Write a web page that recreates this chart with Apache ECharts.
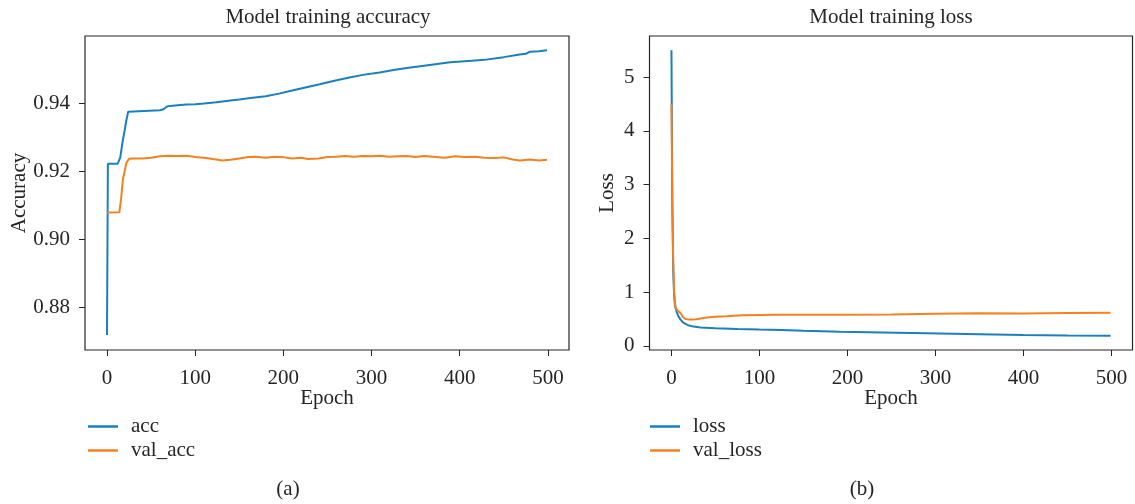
<!DOCTYPE html>
<html>
<head>
<meta charset="utf-8">
<script src="https://cdn.jsdelivr.net/npm/echarts@6/dist/echarts.min.js"></script>
<style>
  html, body { margin: 0; padding: 0; background: #fff; }
  #chart { width: 1135px; height: 504px; }
</style>
</head>
<body>
<div id="chart"></div>
<script>
// epochs and values
var accEpochs = [0, 1, 12, 13, 15, 18, 20, 22, 24, 26, 60, 64, 68, 72, 80, 90, 100, 110, 124, 140, 150, 165, 180, 195, 210, 225, 240, 258, 275, 290, 309, 325, 340, 366, 389, 410, 428, 450, 468, 475, 480, 490, 499];
var accValues = [0.872, 0.9222, 0.9222, 0.9223, 0.9240, 0.9292, 0.9320, 0.9350, 0.9375, 0.9379, 0.9379, 0.9382, 0.9390, 0.9392, 0.9394, 0.9396, 0.9397, 0.9399, 0.9403, 0.9408, 0.9411, 0.9416, 0.9420, 0.9428, 0.9437, 0.9446, 0.9455, 0.9466, 0.9475, 0.9483, 0.9490, 0.9497, 0.9503, 0.9512, 0.9520, 0.9524, 0.9527, 0.9535, 0.9543, 0.9545, 0.9551, 0.9552, 0.9555];

var valAccEpochs = [0, 14, 15, 16, 18, 20, 22, 25, 30, 40, 50, 60, 70, 80, 90, 100, 110, 120, 131, 140, 150, 160, 169, 180, 190, 201, 210, 220, 228, 240, 250, 260, 270, 280, 290, 300, 310, 320, 330, 340, 350, 360, 370, 383, 395, 405, 417, 428, 440, 450, 460, 468, 480, 490, 499];
var valAccValues = [0.9079, 0.9080, 0.9085, 0.9120, 0.9176, 0.9200, 0.9225, 0.9237, 0.9238, 0.9238, 0.9240, 0.9244, 0.9246, 0.9245, 0.9246, 0.9242, 0.9240, 0.9236, 0.9232, 0.9234, 0.9238, 0.9242, 0.9243, 0.9240, 0.9243, 0.9241, 0.9238, 0.9240, 0.9236, 0.9238, 0.9242, 0.9243, 0.9245, 0.9243, 0.9245, 0.9244, 0.9246, 0.9243, 0.9244, 0.9245, 0.9242, 0.9245, 0.9243, 0.9240, 0.9244, 0.9242, 0.9243, 0.9240, 0.9239, 0.9241, 0.9235, 0.9232, 0.9235, 0.9232, 0.9234];

var lossEpochs = [0, 1, 2, 3, 4, 6, 8, 10, 13, 16, 20, 25, 33, 50, 75, 100, 125, 150, 192, 240, 290, 350, 400, 450, 499];
var lossValues = [5.5, 2.6, 1.4, 0.95, 0.75, 0.63, 0.55, 0.50, 0.44, 0.41, 0.38, 0.36, 0.345, 0.33, 0.315, 0.305, 0.298, 0.285, 0.265, 0.25, 0.235, 0.22, 0.205, 0.195, 0.188];

var valLossEpochs = [0, 1, 2, 3, 4, 5, 7, 9, 11, 13, 16, 20, 25, 30, 40, 50, 63, 80, 100, 124, 150, 200, 250, 300, 350, 400, 450, 499];
var valLossValues = [4.5, 2.7, 1.6, 1.05, 0.8, 0.7, 0.66, 0.65, 0.6, 0.54, 0.50, 0.49, 0.49, 0.50, 0.53, 0.545, 0.555, 0.57, 0.575, 0.58, 0.58, 0.58, 0.585, 0.60, 0.61, 0.605, 0.615, 0.62];

var epochTicks = [0, 100, 200, 300, 400, 500];
var accTicks = [0.88, 0.90, 0.92, 0.94];
var lossTicks = [0, 1, 2, 3, 4, 5];

function pairs(xs, ys) {
    var out = [];
    for (var i = 0; i < xs.length; i++) {
        out.push([xs[i], ys[i]]);
    }
    return out;
}

var FONT = 'Liberation Serif';
var FS = 21;
var INK = '#262626';
var BLUE = '#1a7fbf';
var ORANGE = '#f5801f';

function xAxisFor(gridIndex) {
    return {
        type: 'value',
        gridIndex: gridIndex,
        min: -24.95,
        max: 523.95,
        name: 'Epoch',
        nameLocation: 'middle',
        nameGap: 38,
        nameMoveOverlap: false,
        nameTextStyle: { fontFamily: FONT, fontSize: FS, color: INK },
        axisLine: { show: false, onZero: false },
        axisTick: { show: true, inside: false, length: 6, customValues: epochTicks, lineStyle: { color: INK } },
        axisLabel: { customValues: epochTicks, margin: 18, fontFamily: FONT, fontSize: FS, color: INK },
        splitLine: { show: false }
    };
}

function yAxisFor(gridIndex, name, min, max, ticks, gap, fmt) {
    return {
        type: 'value',
        gridIndex: gridIndex,
        min: min,
        max: max,
        name: name,
        nameLocation: 'middle',
        nameGap: gap,
        nameMoveOverlap: false,
        nameTextStyle: { fontFamily: FONT, fontSize: FS, color: INK },
        axisLine: { show: false, onZero: false },
        axisTick: { show: true, inside: false, length: 6, customValues: ticks, lineStyle: { color: INK } },
        axisLabel: { customValues: ticks, margin: 15, fontFamily: FONT, fontSize: FS, color: INK, formatter: fmt },
        splitLine: { show: false }
    };
}

function lineSeries(name, xi, yi, data, color) {
    return {
        name: name,
        type: 'line',
        xAxisIndex: xi,
        yAxisIndex: yi,
        data: data,
        showSymbol: false,
        symbol: 'none',
        color: color,
        lineStyle: { width: 2, color: color }
    };
}

var chart = echarts.init(document.getElementById('chart'));
var option = {
    animation: false,
    backgroundColor: '#fff',
    grid: [
        { left: 85, top: 36, width: 484, height: 314, show: true, borderColor: INK, borderWidth: 1.2, backgroundColor: 'transparent' },
        { left: 649.5, top: 36, width: 483, height: 314, show: true, borderColor: INK, borderWidth: 1.2, backgroundColor: 'transparent' }
    ],
    xAxis: [xAxisFor(0), xAxisFor(1)],
    yAxis: [
        yAxisFor(0, 'Accuracy', 0.8676, 0.9597, accTicks, 55, function (v) { return v.toFixed(2); }),
        yAxisFor(1, 'Loss', -0.075, 5.765, lossTicks, 32, function (v) { return String(v); })
    ],
    legend: [
        {
            data: ['acc', 'val_acc'],
            orient: 'vertical',
            left: 88, top: 416, padding: 0,
            icon: 'rect',
            itemWidth: 30, itemHeight: 2.5, itemGap: 3,
            textStyle: { fontFamily: FONT, fontSize: FS, color: INK, lineHeight: 20, padding: [0, 0, 0, 8] }
        },
        {
            data: ['loss', 'val_loss'],
            orient: 'vertical',
            left: 650, top: 416, padding: 0,
            icon: 'rect',
            itemWidth: 30, itemHeight: 2.5, itemGap: 3,
            textStyle: { fontFamily: FONT, fontSize: FS, color: INK, lineHeight: 20, padding: [0, 0, 0, 8] }
        }
    ],
    graphic: [
        { type: 'text', x: 328, y: 17, style: { text: 'Model training accuracy', fontFamily: FONT, fontSize: FS, fill: INK, textAlign: 'center', textVerticalAlign: 'middle' } },
        { type: 'text', x: 891, y: 17, style: { text: 'Model training loss', fontFamily: FONT, fontSize: FS, fill: INK, textAlign: 'center', textVerticalAlign: 'middle' } },
        { type: 'text', x: 288, y: 489, style: { text: '(a)', fontFamily: FONT, fontSize: FS, fill: INK, textAlign: 'center', textVerticalAlign: 'middle' } },
        { type: 'text', x: 862, y: 489, style: { text: '(b)', fontFamily: FONT, fontSize: FS, fill: INK, textAlign: 'center', textVerticalAlign: 'middle' } }
    ],
    series: [
        lineSeries('acc', 0, 0, pairs(accEpochs, accValues), BLUE),
        lineSeries('val_acc', 0, 0, pairs(valAccEpochs, valAccValues), ORANGE),
        lineSeries('loss', 1, 1, pairs(lossEpochs, lossValues), BLUE),
        lineSeries('val_loss', 1, 1, pairs(valLossEpochs, valLossValues), ORANGE)
    ]
};
chart.setOption(option);
</script>
</body>
</html>
